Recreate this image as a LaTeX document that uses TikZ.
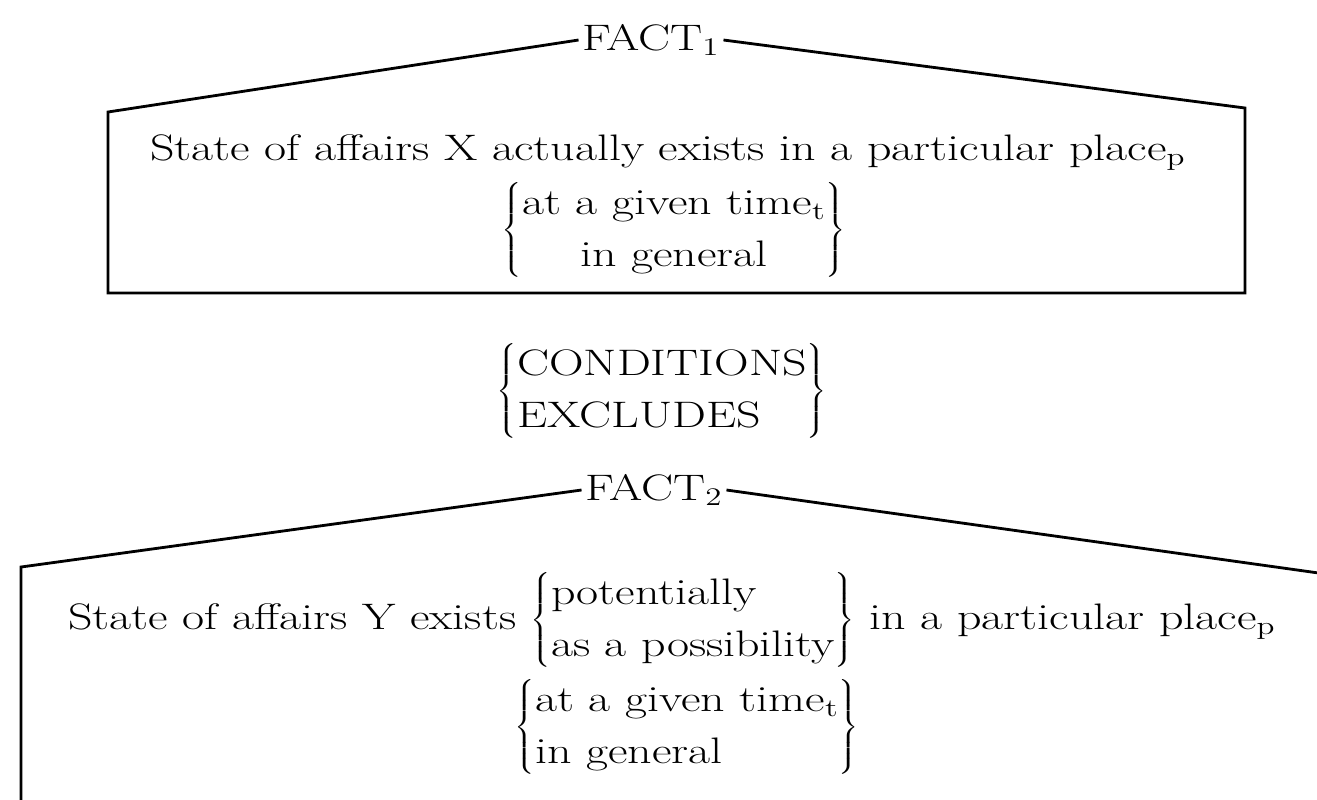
\documentclass[tikz,border=0pt]{standalone}
\usepackage{graphicx}
\usepackage{tikz}
\usetikzlibrary{positioning,calc}
\renewcommand{\arraystretch}{1.18}
\newcommand{\wide}[1]{\scalebox{1.3}[1]{#1}}

\begin{document}
\begin{tikzpicture}[x=0.02cm,y=-0.02cm]
\tikzset{roof/.style={line width=1.6pt,line join=miter},
         factlabel/.style={font=\fontsize{21}{25}\selectfont,inner sep=2pt},
         txt/.style={font=\fontsize{21}{25}\selectfont,inner sep=0pt}}
\useasboundingbox (0,0) rectangle (1317,799);
\clip (0,0) rectangle (1317,799);
% first fact
\node[factlabel] (f1) at (651,40) {\wide{FACT$_1$}};
\coordinate (tl1) at (108,112);
\coordinate (tr1) at (1245,108);
\coordinate (bl1) at (108,293);
\coordinate (br1) at (1245,293);
\draw[roof] (f1.west) -- (tl1) -- (bl1) -- (br1) -- (tr1) -- (f1.east);
\node[txt,anchor=base] (x1) at (668,160) {\wide{State of affairs X actually exists in a particular place$_{\mathrm p}$}};
\node[txt] (t1) at (674,230) {\wide{$\left\{\begin{tabular}{@{}c@{}}at a given time$_{\mathrm t}$\\in general\end{tabular}\right\}$}};
% relation
\node[txt] (cond) at (662,391) {\wide{$\left\{\begin{tabular}{@{}l@{}}CONDITIONS\\EXCLUDES\end{tabular}\right\}$}};
% second fact
\node[factlabel] (f2) at (654,490) {\wide{FACT$_2$}};
\coordinate (tl2) at (21,567);
\coordinate (bl2) at (21,830);
\coordinate (tr2) at (1340,576);
\draw[roof] (f2.west) -- (tl2) -- (bl2);
\draw[roof] (f2.east) -- (tr2);
\node[txt] (y1) at (672,620) {\wide{State of affairs Y exists $\left\{\begin{tabular}{@{}l@{}}potentially\\as a possibility\end{tabular}\right\}$ in a particular place$_{\mathrm p}$}};
\node[txt] (t2) at (687,727) {\wide{$\left\{\begin{tabular}{@{}l@{}}at a given time$_{\mathrm t}$\\in general\end{tabular}\right\}$}};
\end{tikzpicture}
\end{document}
